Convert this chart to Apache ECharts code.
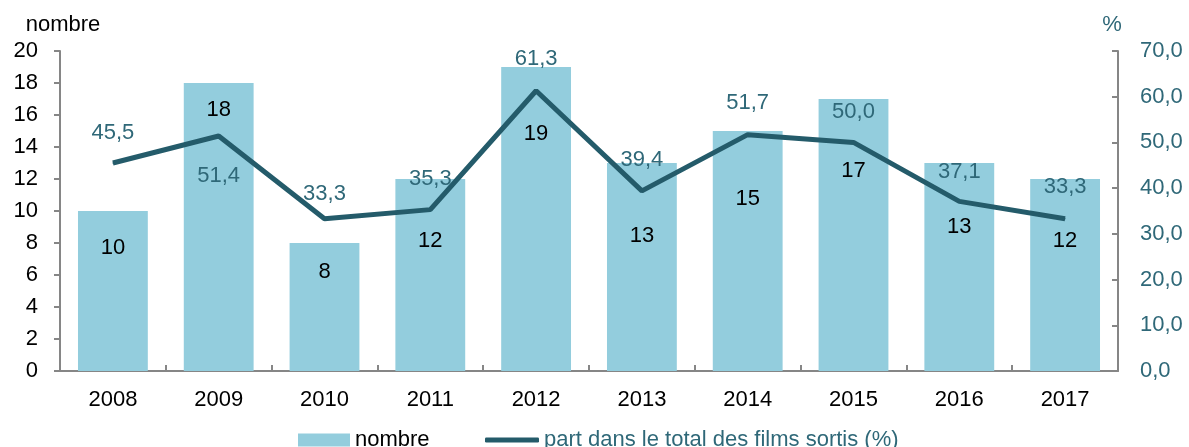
<!DOCTYPE html>
<html>
<head>
<meta charset="utf-8">
<script src="https://cdn.jsdelivr.net/npm/echarts@6/dist/echarts.min.js"></script>
<style>html,body{margin:0;padding:0;background:#fff}#c{width:1189px;height:447px}</style>
</head>
<body>
<div id="c"></div>
<script>
const years = ['2008','2009','2010','2011','2012','2013','2014','2015','2016','2017'];
const nombre = [10, 18, 8, 12, 19, 13, 15, 17, 13, 12];
const part = [45.5, 51.4, 33.3, 35.3, 61.3, 39.4, 51.7, 50.0, 37.1, 33.3];
// label placement (style only)
const barLabelDist = [26, 16, 18, 51, 56, 62, 57, 61, 53, 51];
const lineLabelPos = ['top','bottom','top','top','top','top','top','top','top','top'];
const lineLabelDist = [19, 28, 13, 19, 20, 19, 20, 19, 18, 20];

const FONT = 'Liberation Sans, Arial, sans-serif';
const FS = 22;
const TEAL = '#2F6878';
const LINE = '#245B6A';
const fmt = v => Number(v).toFixed(1).replace('.', ',');
const SERIES_BAR = 'nombre';
const SERIES_LINE = 'part dans le total des films sortis (%)';

const chart = echarts.init(document.getElementById('c'));
chart.setOption({
  animation: false,
  textStyle: {fontFamily: FONT},
  grid: {left: 60, right: 71, top: 51, bottom: 76},
  legend: [
    {
      left: 293, top: 424, itemWidth: 52, itemHeight: 13, itemGap: 0,
      textStyle: {fontFamily: FONT, fontSize: FS, color: '#000'},
      data: [{name: SERIES_BAR, icon: 'rect'}]
    },
    {
      left: 480, top: 424, itemWidth: 54, itemHeight: 5, itemGap: 0,
      textStyle: {fontFamily: FONT, fontSize: FS, color: TEAL},
      data: [{name: SERIES_LINE, icon: 'roundRect', itemStyle: {color: LINE}}]
    }
  ],
  xAxis: {
    type: 'category', data: years,
    axisLine: {lineStyle: {color: '#868686', width: 2}},
    axisTick: {show: true, inside: true, length: 6, alignWithLabel: false, lineStyle: {color: '#868686', width: 2}},
    axisLabel: {color: '#000', fontSize: FS, margin: 18, fontFamily: FONT}
  },
  yAxis: [
    {
      type: 'value', min: 0, max: 20, interval: 2,
      name: 'nombre', nameLocation: 'end', nameGap: 15,
      nameTextStyle: {color: '#000', fontSize: FS, fontFamily: FONT, padding: [0, 0, 0, 6]},
      axisLine: {show: true, lineStyle: {color: '#868686', width: 2}},
      axisTick: {show: true, length: 6, lineStyle: {color: '#868686', width: 2}},
      splitLine: {show: false},
      axisLabel: {color: '#000', fontSize: FS, margin: 22, fontFamily: FONT}
    },
    {
      type: 'value', min: 0, max: 70, interval: 10,
      name: '%', nameLocation: 'end', nameGap: 15,
      nameTextStyle: {color: TEAL, fontSize: FS, fontFamily: FONT, padding: [0, 12, 0, 0]},
      axisLine: {show: true, lineStyle: {color: '#868686', width: 2}},
      axisTick: {show: true, inside: true, length: 6, lineStyle: {color: '#868686', width: 2}},
      splitLine: {show: false},
      axisLabel: {color: TEAL, fontSize: FS, margin: 22, fontFamily: FONT, formatter: fmt}
    }
  ],
  series: [
    {
      name: SERIES_BAR, type: 'bar', yAxisIndex: 0, barWidth: '66%',
      itemStyle: {color: '#93CDDD'},
      data: nombre.map((v, i) => ({
        value: v,
        label: {show: true, position: 'insideTop', distance: barLabelDist[i], color: '#000', fontSize: FS, fontFamily: FONT}
      })),
      z: 1
    },
    {
      name: SERIES_LINE, type: 'line', yAxisIndex: 1,
      symbol: 'circle', symbolSize: 1,
      itemStyle: {color: LINE},
      lineStyle: {color: LINE, width: 5},
      data: part.map((v, i) => ({
        value: v,
        label: {show: true, position: lineLabelPos[i], distance: lineLabelDist[i], color: TEAL, fontSize: FS, fontFamily: FONT, formatter: p => fmt(p.value)}
      })),
      z: 3
    }
  ]
});
</script>
</body>
</html>
